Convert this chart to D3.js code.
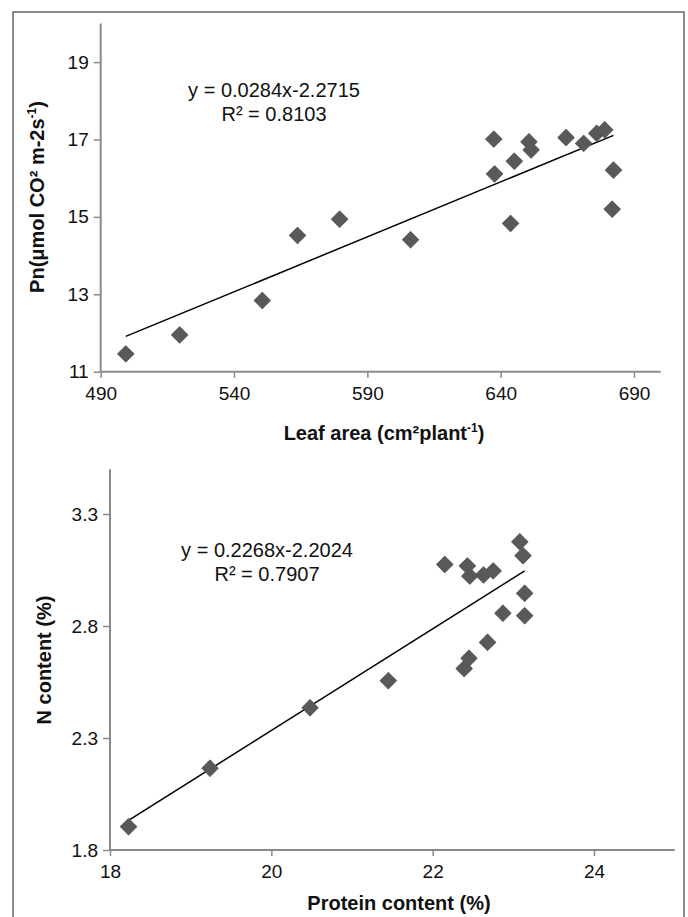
<!DOCTYPE html>
<html>
<head>
<meta charset="utf-8">
<script src="https://cdn.jsdelivr.net/npm/d3@7"></script>
<style>
  html, body { margin: 0; padding: 0; background: #fff; }
  svg { display: block; font-family: "Liberation Sans", Arial, sans-serif; }
</style>
</head>
<body>
<svg id="chart" width="688" height="917"></svg>
<script>
// ---------- Data ----------
// Panel A: Leaf area vs Pn
const leafArea = [499.4, 519.6, 550.6, 563.8, 579.6, 606.2, 637.4, 637.7, 643.7, 645.1, 650.6, 651.4, 664.5, 671.1, 676.0, 679.0, 682.3, 681.8];
const pnValues = [11.46, 11.95, 12.84, 14.52, 14.94, 14.41, 17.01, 16.11, 14.83, 16.44, 16.94, 16.73, 17.05, 16.90, 17.16, 17.25, 16.21, 15.20];
const leafTicks = [490, 540, 590, 640, 690];
const pnTicks = [11, 13, 15, 17, 19];
const fitA = [0.0284, -2.2715];
const eqA = ["y = 0.0284x-2.2715", "R² = 0.8103"];

// Panel B: Protein content vs N content
const protein = [18.23, 19.24, 20.48, 21.45, 22.15, 22.39, 22.45, 22.43, 22.46, 22.63, 22.75, 22.68, 22.87, 23.08, 23.12, 23.14, 23.14];
const nContent = [1.904, 2.165, 2.435, 2.556, 3.075, 2.610, 2.656, 3.068, 3.023, 3.028, 3.046, 2.727, 2.857, 3.176, 3.114, 2.946, 2.846];
const proteinTicks = [18, 20, 22, 24];
const nTicks = [1.8, 2.3, 2.8, 3.3];
const fitB = [0.2268, -2.2024];
const eqB = ["y = 0.2268x-2.2024", "R² = 0.7907"];

// ---------- Drawing ----------
const svg = d3.select("#chart");
const axisColor = "#8a8a8a";
const markColor = "#595959";

// outer frame
svg.append("rect")
  .attr("x", 13).attr("y", 12)
  .attr("width", 671).attr("height", 940)
  .attr("fill", "none").attr("stroke", "#666").attr("stroke-width", 1.5);

function panel(cfg) {
  const x = d3.scaleLinear().domain(cfg.xDomain).range(cfg.xRange);
  const y = d3.scaleLinear().domain(cfg.yDomain).range(cfg.yRange);
  const g = svg.append("g");

  const xAxis = d3.axisBottom(x).tickValues(cfg.xTicks).tickSize(6).tickPadding(9).tickFormat(cfg.xFmt);
  const yAxis = d3.axisLeft(y).tickValues(cfg.yTicks).tickSize(7).tickPadding(5).tickFormat(cfg.yFmt);

  const gx = g.append("g").attr("transform", `translate(0,${cfg.yRange[0]})`).call(xAxis);
  const gy = g.append("g").attr("transform", `translate(${cfg.xRange[0]},0)`).call(yAxis);
  [gx, gy].forEach(a => {
    a.select(".domain").attr("stroke", axisColor).attr("stroke-width", 2);
    a.selectAll(".tick line").attr("stroke", axisColor).attr("stroke-width", 1.5);
    a.selectAll(".tick text").attr("fill", "#111").attr("font-size", 19)
      .attr("font-family", "'Liberation Sans', Arial, sans-serif");
  });
  gx.select(".domain").attr("d", `M${cfg.xRange[0]},0H${cfg.xRange[1]}`);
  gy.select(".domain").attr("d", `M0,${cfg.yRange[0]}V${cfg.yRange[1]}`);

  // trend line from fitted equation over the data range
  const xs = d3.extent(cfg.xs);
  g.append("line")
    .attr("x1", x(xs[0])).attr("y1", y(cfg.fit[0] * xs[0] + cfg.fit[1]))
    .attr("x2", x(xs[1])).attr("y2", y(cfg.fit[0] * xs[1] + cfg.fit[1]))
    .attr("stroke", "#000").attr("stroke-width", 1.5);

  // diamond markers
  const sym = d3.symbol().type(d3.symbolSquare).size(132);
  g.selectAll("path.pt").data(cfg.xs.map((v, i) => [v, cfg.ys[i]]))
    .enter().append("path").attr("class", "pt")
    .attr("d", sym)
    .attr("transform", d => `translate(${x(d[0])},${y(d[1])}) rotate(45)`)
    .attr("fill", markColor)
    .attr("stroke", markColor).attr("stroke-width", 1).attr("stroke-linejoin", "round");

  // equation text
  cfg.eq.forEach((t, i) => {
    g.append("text").attr("x", cfg.eqPos[0]).attr("y", cfg.eqPos[1] + i * 24)
      .attr("text-anchor", "middle").attr("font-size", 20).attr("fill", "#111").text(t);
  });

  // x label
  const xl = g.append("text").attr("x", cfg.xLabelPos[0]).attr("y", cfg.xLabelPos[1])
    .attr("text-anchor", "middle").attr("font-size", 20).attr("font-weight", "bold").attr("fill", "#111");
  cfg.xLabel.forEach(p => {
    const ts = xl.append("tspan").text(p.t);
    if (p.sup) ts.attr("font-size", 12).attr("dy", -8);
    if (p.after) ts.attr("dy", 8);
  });
  // y label
  const yl = g.append("text")
    .attr("transform", `translate(${cfg.yLabelPos[0]},${cfg.yLabelPos[1]}) rotate(-90)`)
    .attr("text-anchor", "middle").attr("font-size", 20).attr("font-weight", "bold").attr("fill", "#111");
  cfg.yLabel.forEach(p => {
    const ts = yl.append("tspan").text(p.t);
    if (p.sup) ts.attr("font-size", 12).attr("dy", -8);
    if (p.after) ts.attr("dy", 8);
  });
}

panel({
  xs: leafArea, ys: pnValues, fit: fitA, eq: eqA,
  xDomain: [490, 700], xRange: [100.7, 660.7],
  yDomain: [11, 20], yRange: [371.7, 23.4],
  xTicks: leafTicks, yTicks: pnTicks,
  xFmt: d3.format("d"), yFmt: d3.format("d"),
  eqPos: [274, 97],
  xLabelPos: [384, 440],
  xLabel: [{t: "Leaf area (cm²plant"}, {t: "-1", sup: true}, {t: ")", after: true}],
  yLabelPos: [44, 197],
  yLabel: [{t: "Pn(μmol CO² m-2s"}, {t: "-1", sup: true}, {t: ")", after: true}]
});

panel({
  xs: protein, ys: nContent, fit: fitB, eq: eqB,
  xDomain: [18, 25], xRange: [110, 674.7],
  yDomain: [1.8, 3.5], yRange: [850, 469.2],
  xTicks: proteinTicks, yTicks: nTicks,
  xFmt: d3.format("d"), yFmt: d3.format(".1f"),
  eqPos: [267, 557],
  xLabelPos: [399, 910],
  xLabel: [{t: "Protein content (%)"}],
  yLabelPos: [51, 660],
  yLabel: [{t: "N content (%)"}]
});
</script>
</body>
</html>
